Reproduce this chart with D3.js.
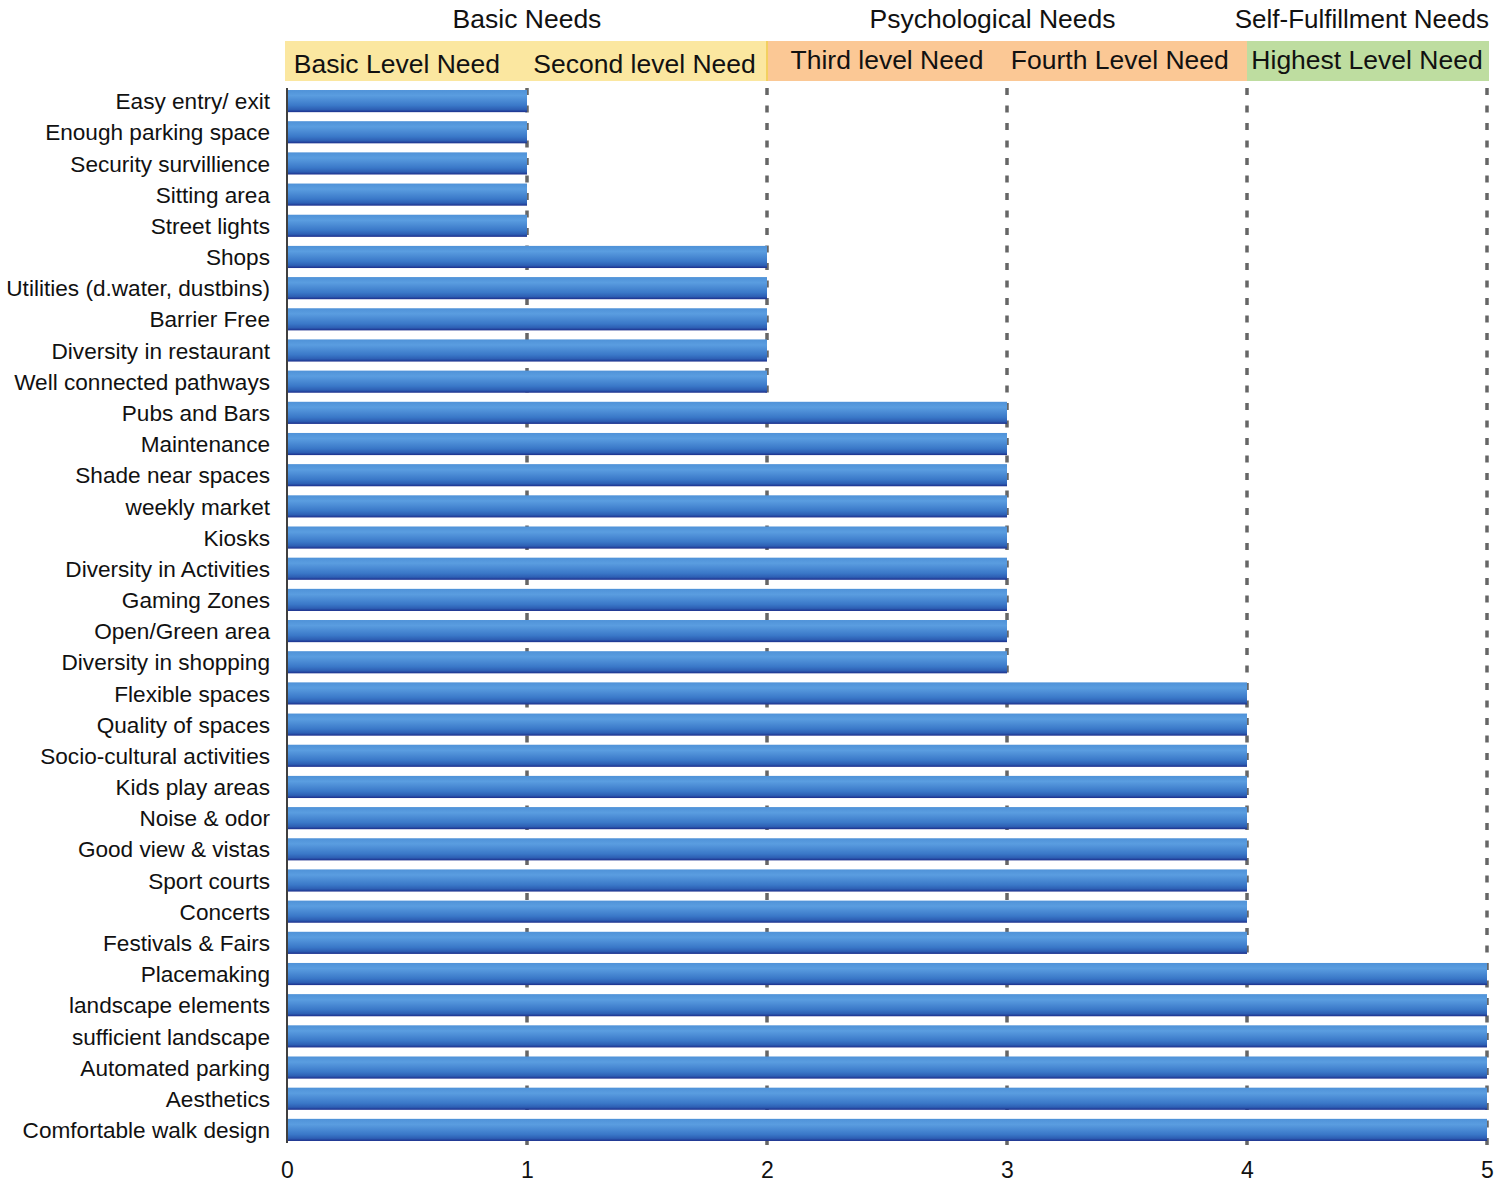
<!DOCTYPE html>
<html>
<head>
<meta charset="utf-8">
<script src="https://cdn.jsdelivr.net/npm/d3@7"></script>
<style>
  body { margin: 0; background: #fff; }
  svg { display: block; font-family: "Liberation Sans", Arial, sans-serif; }
</style>
</head>
<body>
<svg id="chart"></svg>
<script>
const width = 1500;
const height = 1186;

// categories, top to bottom
const categories = [
  "Easy entry/ exit", "Enough parking space", "Security survillience", "Sitting area",
  "Street lights", "Shops", "Utilities (d.water, dustbins)", "Barrier Free",
  "Diversity in restaurant", "Well connected pathways", "Pubs and Bars", "Maintenance",
  "Shade near spaces", "weekly market", "Kiosks", "Diversity in Activities",
  "Gaming Zones", "Open/Green area", "Diversity in shopping", "Flexible spaces",
  "Quality of spaces", "Socio-cultural activities", "Kids play areas", "Noise & odor",
  "Good view & vistas", "Sport courts", "Concerts", "Festivals & Fairs",
  "Placemaking", "landscape elements", "sufficient landscape", "Automated parking",
  "Aesthetics", "Comfortable walk design"
];
const values = [
  1, 1, 1, 1, 1,
  2, 2, 2, 2, 2,
  3, 3, 3, 3, 3, 3, 3, 3, 3,
  4, 4, 4, 4, 4, 4, 4, 4, 4,
  5, 5, 5, 5, 5, 5
];
const xTicks = [0, 1, 2, 3, 4, 5];

// header bands
const levelFrom = [0, 2, 4];
const levelTo = [2, 4, 5];
const levelColors = ["#fbe7a0", "#fbc895", "#bedda0"];
const levelGroups = ["Basic Needs", "Psychological Needs", "Self-Fulfillment Needs"];
const subLabels = ["Basic Level Need", "Second level Need", "Third level Need", "Fourth Level Need", "Highest Level Need"];
const subCenters = [0.458, 1.49, 2.5, 3.47, 4.5];

const svg = d3.select("#chart").attr("width", width).attr("height", height);

const x = d3.scaleLinear().domain([0, 5]).range([287, 1487]);
const y = d3.scaleBand().domain(categories).range([85.5, 1145.5]).paddingInner(0.29).paddingOuter(0.145);

// gradient for the bars
const defs = svg.append("defs");
const grad = defs.append("linearGradient")
  .attr("id", "barGrad").attr("x1", 0).attr("y1", 0).attr("x2", 0).attr("y2", 1);
grad.append("stop").attr("offset", "0%").attr("stop-color", "#4f92d8");
grad.append("stop").attr("offset", "25%").attr("stop-color", "#5a9de0");
grad.append("stop").attr("offset", "70%").attr("stop-color", "#3a78c8");
grad.append("stop").attr("offset", "88%").attr("stop-color", "#2d5fb4");
grad.append("stop").attr("offset", "100%").attr("stop-color", "#1c2f8c");

const bands = svg.append("g");
levelFrom.forEach((f, i) => {
  bands.append("rect")
    .attr("x", x(f) - (i === 0 ? 2 : 0))
    .attr("y", 41)
    .attr("width", x(levelTo[i]) - x(f) + (i === 0 ? 2 : 0) + (i === 2 ? 2 : 0))
    .attr("height", 40)
    .attr("fill", levelColors[i]);
});
bands.append("rect").attr("x", x(2) - 1).attr("y", 41).attr("width", 2).attr("height", 40).attr("fill", "#f3d060");

svg.append("g").selectAll("text")
  .data(subLabels)
  .join("text")
  .attr("x", (d, i) => x(subCenters[i]))
  .attr("y", (d, i) => i < 2 ? 73 : 69)
  .attr("text-anchor", "middle")
  .attr("font-size", 26.5)
  .attr("fill", "#111")
  .text(d => d);

const groupCenters = [1, 2.94, 4.5];
svg.append("g").selectAll("text")
  .data(levelGroups)
  .join("text")
  .attr("x", (d, i) => i === 2 ? 1489 : x(groupCenters[i]))
  .attr("y", 28)
  .attr("text-anchor", (d, i) => i === 2 ? "end" : "middle")
  .attr("font-size", (d, i) => i === 2 ? 26 : 26.5)
  .attr("fill", "#111")
  .text(d => d);

// dashed grid lines
svg.append("g").selectAll("line")
  .data(xTicks.slice(1))
  .join("line")
  .attr("x1", d => x(d)).attr("x2", d => x(d))
  .attr("y1", 88).attr("y2", 1150)
  .attr("stroke", "#666")
  .attr("stroke-width", 3.5)
  .attr("stroke-dasharray", "7,10.5");

// bars
svg.append("g").selectAll("rect")
  .data(categories)
  .join("rect")
  .attr("x", x(0) + 1)
  .attr("y", d => y(d))
  .attr("width", (d, i) => x(values[i]) - x(0) - 1)
  .attr("height", y.bandwidth())
  .attr("fill", "url(#barGrad)");

// left axis line
svg.append("line")
  .attr("x1", x(0)).attr("x2", x(0))
  .attr("y1", 88).attr("y2", 1143)
  .attr("stroke", "#000").attr("stroke-width", 1.5);

// category labels
const yAxis = svg.append("g")
  .attr("transform", `translate(${x(0) - 17},0)`)
  .call(d3.axisLeft(y).tickSize(0).tickPadding(0));
yAxis.select(".domain").remove();
yAxis.selectAll("text")
  .attr("font-size", 22.6)
  .attr("fill", "#111")
  .attr("font-family", "Liberation Sans, Arial, sans-serif")
  .attr("dy", "0.36em");

// x tick labels
const xAxis = svg.append("g")
  .attr("transform", "translate(0,1150)")
  .call(d3.axisBottom(x).tickValues(xTicks).tickSize(0).tickPadding(8).tickFormat(d3.format("d")));
xAxis.select(".domain").remove();
xAxis.selectAll("text")
  .attr("font-size", 23)
  .attr("fill", "#111")
  .attr("font-family", "Liberation Sans, Arial, sans-serif")
  .attr("dy", "0.85em");
</script>
</body>
</html>
